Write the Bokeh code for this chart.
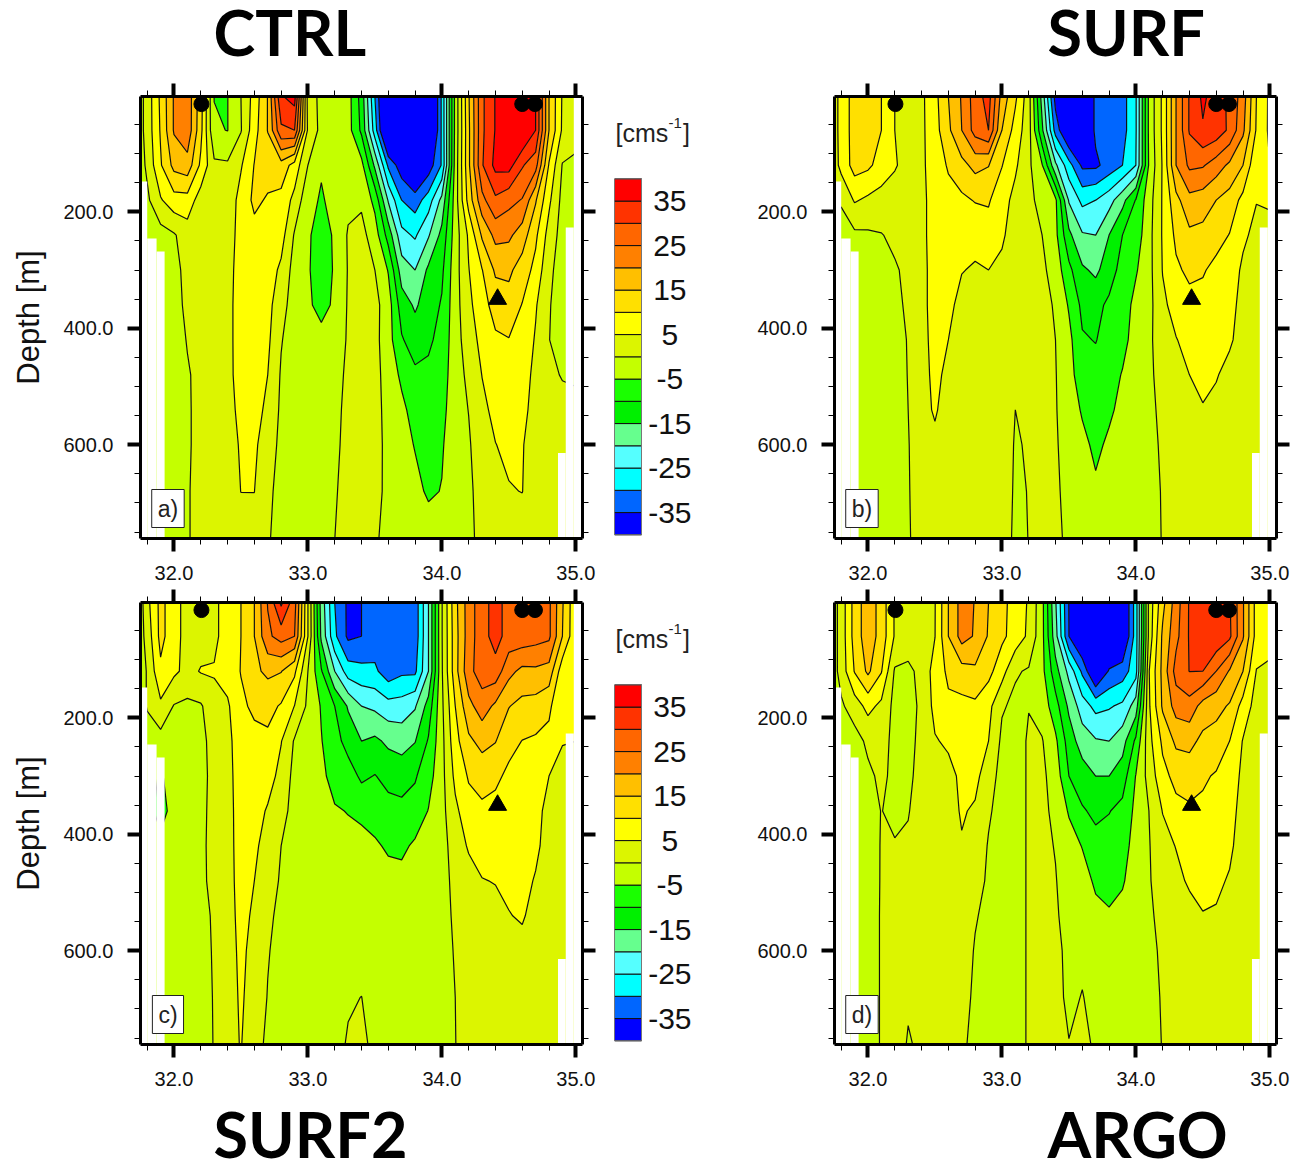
from bokeh.embed import file_html
from bokeh.resources import INLINE
from bokeh.plotting import figure
from bokeh.layouts import column, row
from bokeh.models import Range1d, LinearAxis, FixedTicker, Label
import numpy as np

LON = [31.75, 31.8, 31.9, 32.0, 32.1, 32.2, 32.3, 32.4, 32.5, 32.6, 32.7, 32.8, 32.9, 33.0, 33.1, 33.2, 33.3, 33.4,
       33.5, 33.6, 33.7, 33.8, 33.9, 34.0, 34.1, 34.2, 34.3, 34.4, 34.5, 34.6, 34.7, 34.8, 34.9, 35.0]
DEPTH = [2, 60, 120, 180, 240, 300, 360, 420, 480, 540, 600, 680, 765]

# velocity per longitude (one list per LON entry, top to bottom along DEPTH)
U_CTRL = [
 [-1.5,-1.5,-2,-3,-3,-3,-3,-3,-3,-3,-3,-3,-3],
 [2,2,1,-1,-2,-3,-3,-3,-3,-3,-3,-3,-3],
 [11,10.5,9.5,4.5,-2,-3,-3.5,-3.5,-3.5,-3.5,-3.5,-3.5,-3.5],
 [20.5,20.5,16.5,8,-0.5,-2,-2.5,-2.5,-2.5,-2.5,-2.5,-2.5,-2.5],
 [23.5,23.5,18,8,2.5,2,1.5,0.3,-0.5,-0.6,-0.6,-0.5,-0.5],
 [12,11.5,9,2.5,1.5,1.5,1.5,1.5,1.5,1.5,1.5,2,2],
 [-5.1,-4.5,1,2,2.5,2.5,2.5,2.5,2.5,2.5,2.5,2.5,2.5],
 [-5.1,-5.1,0.7,1.5,2.5,2.5,3,3,3,3,3,3,3],
 [0,-0.3,4.5,7,7,8,8,8,7.8,6.5,5.5,5.05,2.5],
 [7,8,10.2,11,8.5,8.5,8.5,8,8,7.5,6,5.05,3],
 [15.2,15.2,12,9.5,8,7.5,6.5,6,5,3.5,2,0.8,0.3],
 [34.5,29,13,8.5,7,4,2,0.3,-0.5,-0.8,-1,-1.2,-1.2],
 [37,30,8,3.5,-0.5,-2,-2.5,-2.5,-2.5,-2.5,-2.5,-2.5,-2.5],
 [3,4,0,-3.5,-4.7,-4.7,-4.5,-3,-2,-1.5,-1.2,-1.2,-1.2],
 [-1.5,-1.5,-4.5,-5.5,-6,-6.5,-6,-4,-3,-2.5,-2,-1.5,-1.2],
 [-1.5,-1.5,-2.5,-3.5,-4.7,-4.7,-4.5,-3,-1.5,-1,-0.8,-0.4,0],
 [-3,-3,-3,-1.2,0.5,0.3,0.5,0.6,0.8,1,1.2,1.5,1.8],
 [-12,-11,-3.5,-0.8,1.5,1.8,2,2,2,2,2,2,2],
 [-30,-27.5,-16,-6.5,-2.5,0,1.5,1.5,1.5,1.5,1.5,1.2,0.4],
 [-48,-47,-31,-20.5,-12,-5.3,-2.7,-3,-2,-1.5,-1.2,-1,-1],
 [-48,-48,-38,-30,-23.5,-17.5,-12.5,-9.5,-6,-3.8,-3,-2,-1.5],
 [-48,-48,-44,-32.5,-25.7,-20,-15.7,-12.5,-9,-7,-5.3,-3.5,-2],
 [-48,-48,-38,-27.5,-20.5,-14,-12.6,-10.8,-9,-8,-7,-5.8,-2],
 [-29,-29,-29.5,-18.5,-13.5,-11,-9.5,-8.5,-7.5,-6.5,-5.5,-4.8,-1.5],
 [-3.5,-3.5,-3,-2.5,-2.5,-2,-2,-2,-2,-2,-2,-2,-2],
 [14.5,14,14,12,5.8,4.8,3.8,2.5,1,0.1,-0.5,-1,-1.2],
 [29,29,29.5,23.5,15.7,9.8,8,6.5,5.1,3.8,2.7,2,1.5],
 [35.3,35.3,36.5,29,21.5,15.8,12,9.2,7.7,6.3,4.9,3,2],
 [40,40,37,26.5,21,16,13,9.8,8.5,7.5,6,4.7,2.5],
 [42,41,30.5,24.7,17.5,12.7,9.8,8.5,7.5,6.5,5.4,5.1,2],
 [35,35,27,15.5,11,8.5,5.5,4.5,3.5,3,2,2,2],
 [15,15,9.5,6,3,1,0.3,0.1,1,2,2,2,2],
 [4.5,4.2,-0.3,-1.5,-2,-2,-2,-2,-0.3,1.5,1.5,1.5,1.5],
 [1.5,1.5,-0.8,-1.5,-1.5,-1.5,-1.5,-1.5,-0.5,1,1,1,1],
]
U_SURF = [
 [3,3,3,1,-3,-3,-3,-3,-3,-3,-3,-3,-3],
 [7,7,6.5,0.5,-2,-3,-3,-3,-3,-3,-3,-3,-3],
 [12,12,12,5.5,-1,-3,-3.5,-3.5,-3.5,-3.5,-3.5,-3.5,-3.5],
 [12.5,13,11,4,-0.7,-2.5,-3,-3.5,-3.5,-3.5,-3.5,-3.5,-3.5],
 [10,10,8,3,-0.2,-1.5,-2.5,-3,-3,-3,-3,-3,-3],
 [5,5,5.5,2.5,1,-0.5,-1.5,-2,-2.5,-2.5,-2.5,-2.5,-2.5],
 [3,3,3,3,2.5,1,1,0.3,0.2,0,-0.3,-0.5,-0.8],
 [4,4,4,3.5,3.5,3.5,3.5,3.5,3.5,3.5,3.5,3.5,3.5],
 [8.5,8,7.5,7.5,7.5,7,7,6.5,6,5.5,4,3.5,3],
 [15,14,10.5,8.5,7.5,7,6.2,5,4,3,2.5,2.5,2.5],
 [20.5,20,13.5,9,7.5,5.2,3.5,2.5,2.5,2.5,2,2,2],
 [27.5,27,16.5,10.3,6.5,4.5,3,2.5,2.5,2.5,2,2,2],
 [32,30,15.2,10.5,8,5,3,2.5,2,2,2,2,2],
 [18,15,10.2,7,6,3.5,2.5,2,2,2,2,2,2],
 [11,8,5.8,3.5,1.8,1.3,1.3,1.3,1,0,-0.3,-0.5,-0.8],
 [2,2,1,1.5,1.8,1.8,1.8,1.8,1.8,1.5,0.3,0.1,0.05],
 [-17,-14,-4.7,-2,0,1,1.5,1.5,1.5,1.5,1.5,1.3,1.2],
 [-37,-32,-19,-4,-3.7,-2.1,-0.5,0,0.2,0.3,0.5,0.8,1],
 [-42,-42,-28,-20.5,-13.8,-8.7,-5.5,-3.6,-3,-2.5,-2,-1.5,-0.9],
 [-42,-42,-36,-26.3,-19.5,-14.2,-11.2,-9.5,-8,-5.5,-3.8,-2.5,-1.5],
 [-34,-34,-36,-25,-20,-16,-11.5,-10.2,-8.3,-7,-6,-4.2,-2],
 [-33,-33,-33,-22,-15,-12.5,-9,-8,-7,-5.8,-4.2,-3,-1.5],
 [-32,-32,-30,-16.6,-10,-8,-7.5,-6.5,-4.7,-3.7,-3,-2.5,-1.5],
 [-25.5,-25.5,-25,-9.7,-7.8,-5.5,-3.5,-3,-2.7,-2.3,-2,-1.5,-1],
 [-3.5,-3.5,-4,-2,-1.5,-1.5,-1.5,-1,-1,-1,-1,-1,-0.8],
 [6,6,5.5,5.5,5.5,5.2,4,3,2,1,0.5,0.2,0.1],
 [20,20,20,13.5,11,9.2,6.8,4.8,3.5,2.5,1.7,1.2,1],
 [30.5,30.5,26,18.4,14,11,8.5,6.5,5,3.5,2.5,1.7,1.2],
 [36,34.5,25.5,17.5,13.5,10.5,8.2,6.8,5.8,4.8,3.2,2,1.5],
 [32.5,33,22.5,15,12,8.5,7,6.5,5.4,3.5,2.5,2,1.5],
 [29,29,19,13,9.8,8,7,5.8,3.2,2.5,2,1.8,1.5],
 [22.5,21,15,8.5,6,4,3,2.7,2.5,2.5,2,2,1.5],
 [10,9.5,5.8,5.2,3.5,2.8,2.5,2.5,2.5,2.5,2.5,2,2],
 [4,4,5,5.2,4.5,3,3,3,3,3,3,3,3],
]
U_SURF2 = [
 [-2,-2,-3,-3,-3,-3,-3,-3,-3,-3,-3,-3,-3],
 [3.5,2,0.5,0.5,-3,-3,-3,-3,-3,-3,-3,-3,-3],
 [11.5,11.5,9,4,-2,-5.5,-7,-3.5,-3,-3,-3,-3,-3],
 [7,7,6,-0.3,-2.5,-3,-3,-3,-3,-3,-3,-3,-3],
 [3,3,3.5,-1,-2,-2.5,-3,-3,-3,-3,-3,-3,-3],
 [3,3,5.3,-0.5,-1.5,-1.8,-1.2,-1,-1,-1.2,-1.5,-2,-2],
 [3.5,3.5,5.5,3,2,1.8,1.5,1.5,1.3,0.5,0.4,0.3,0.2],
 [8,8,7,4.3,3.5,3,3,3,3,3,3,3,3.5],
 [10,10,10.2,9,8,8,7.5,7.3,7,6.5,6,5.6,5.2],
 [15,15,14,11,8.5,7.5,7,5.8,5,4.2,3.5,3,1.5],
 [25.3,24,16,11.5,9,7,4.5,3.3,2,0.8,0.3,-0.2,-0.8],
 [36,27,15.2,9.5,5.2,3.5,2,0,-0.5,-1,-1.5,-2,-2],
 [27,25,11,4.9,-0.5,-1.5,-2,-2,-2,-2,-2,-2,-2],
 [5,5,0,-1,-2,-2.5,-2.5,-2.5,-2.5,-2.5,-2.5,-2.5,-2.5],
 [-17,-16,-9.5,-5.4,-4.8,-3.8,-3,-2.5,-2,-2,-2,-2,-2],
 [-30,-29,-20,-10,-8,-7,-4.5,-3,-2.5,-2,-2,-2,-1.5],
 [-36,-36,-27.5,-15.5,-12,-7.5,-5.2,-3.5,-3,-2.5,-2,-0.5,0.5],
 [-35,-35,-28.5,-20,-15,-11,-6,-3.5,-3,-2.5,-2,0.05,1],
 [-33,-33,-29,-21,-14,-9.8,-6.5,-4.5,-3.5,-2.5,-2.5,-2,-1],
 [-32.5,-32.5,-33,-23,-16,-11.5,-8.3,-5.5,-3.8,-3,-3,-2.5,-2],
 [-33,-33,-31,-22.8,-17,-12,-8.7,-6,-3.5,-3,-2.5,-2.5,-2.5],
 [-33,-33,-31,-20.5,-15.2,-10.5,-8,-4.2,-3,-2.5,-2.5,-2.5,-2.5],
 [-20,-20,-20,-13,-9.5,-7,-4.8,-3.5,-3,-2.5,-2.5,-2.5,-2.5],
 [-0.3,-0.3,-0.5,-1,-1.5,-1.5,-1.5,-2,-2,-2.2,-2.5,-2.5,-2.5],
 [13.5,13,13,10,8.3,6.2,3.9,2.5,1.5,1,0.5,0,-0.1],
 [22.5,22.5,23.5,18.5,14,10.5,8,5.5,3.2,2.5,2,2,2],
 [28,28,27.5,22.5,16.5,12,9,7,4.8,3.2,2.5,2,2],
 [32,32,28,19,15.2,11,8.5,7,5.2,3.5,3,2.5,2],
 [28,28,21.5,15.2,11.5,9,8,7.5,6,4.8,3,2.5,2],
 [28,28,18.7,13.5,9.9,8,7.5,7,6.5,5.5,3.5,2.5,2],
 [27.5,27,19,13,9.3,7.5,6.5,6,4.6,3.3,2.5,2,2],
 [26,26,18,11,8.6,5,3.5,3,2.5,2.5,2.5,2,2],
 [15.5,15,7,5.5,5.3,3,3,3,3,3,3,3,3],
 [6,6,5.2,5.2,5,3,3,3,3,3,3,3,3],
]
U_ARGO = [
 [-1.5,-1.5,-1.5,-2,-3,-3,-3,-3,-3,-3,-3,-3,-3],
 [2,2,2,-0.8,-3,-3,-3,-3,-3,-3,-3,-3,-3],
 [12,12,10.3,2.5,-2,-3,-3.5,-3.5,-3.5,-3.5,-3.5,-3.5,-3.5],
 [18,18,16,6.5,1,-1,-1.5,-2.5,-3,-3,-3,-3,-3],
 [13,13,10.3,3.8,2,1,0.1,0.3,0.4,0.5,0.5,0.5,0.5],
 [4.5,4.5,-0.6,-1.5,-1.5,-1.2,-1,0.3,1,1.5,1.5,1.5,1.5],
 [3,3,-1.2,-1.5,-1.7,-1.2,-0.3,0.8,1,1.5,1.5,0.4,-0.3],
 [4,4,1.5,0.8,1.5,2,2.5,2.5,2.5,2,2,2,0.5],
 [4.8,4.9,7,6.5,4.6,3.5,3,2.5,2.5,2,2,2,2],
 [15,15,11,9,5.8,3.5,3,2.5,2,2,2,2,2],
 [22,22,13,8.5,6.8,6,5.5,4.6,3,2.5,2,1.2,0.6],
 [19.8,19.5,14,9,7.5,6.5,4.3,2.5,1.5,0.3,-0.3,-0.6,-1],
 [15,14.5,11.5,6.5,5,2,0.5,-0.3,-0.6,-1,-1.5,-1.5,-1.5],
 [11.5,11,7,0.5,-1,-1.5,-1.5,-1.5,-1.5,-1.5,-1.5,-1.5,-1.5],
 [7.8,8,0.5,-1,-1.5,-1.5,-1.5,-1.5,-1.5,-1.5,-1.5,-1.5,-1.5],
 [4.5,4,-0.5,-0.1,0.4,0.4,0.4,0.4,0.4,0.4,0.4,0.4,0.4],
 [-3.5,-3.5,-3.5,-2,0.3,1,1,1,1,1,1,1,1],
 [-19.5,-18,-13,-8,-4,-2.2,-1,-0.2,0.2,0.5,1,1.5,1.8],
 [-35.2,-35,-21.5,-16,-12.3,-10,-5.5,-2.8,-2,-1.5,-1,-1,0.2],
 [-42,-42,-31,-22.5,-17.5,-12.5,-9.5,-5.2,-3,-2,-1,0.2,0.8],
 [-42,-42,-42,-26.5,-19.5,-15,-11,-8.5,-5.8,-3.7,-3,-1.5,-0.4],
 [-42,-42,-34.5,-25.5,-20,-15,-10.2,-8,-6.5,-4.5,-3.5,-2,-1],
 [-42,-42,-32.5,-24,-17,-12.5,-8.5,-7,-5.5,-3.5,-2.8,-2,-1],
 [-27.5,-27.5,-27,-17.5,-9,-4.8,-3.8,-3,-2.5,-2,-2,-1.5,-1],
 [2,2,5,4.5,3.5,2,0.1,-0.2,-0.3,-0.8,-1.2,-1.5,-1],
 [13.5,16,16.5,15.8,11,8.5,5.2,3,2,1.5,0.8,0.4,0.1],
 [22.5,23.5,27,22,16,11.5,8.5,5.2,3.5,3,2.5,2,1],
 [30.5,30.5,30.1,23,16.5,12,9.3,8,5.8,3,2.5,2,1.5],
 [33,33,30,18,13.7,10.7,9,7.8,6.3,4.8,3.5,2.5,2],
 [34,34,25,16.5,13,9.5,8.5,7.5,6,4.5,3.5,2.5,2],
 [30.5,31,19.5,14.5,10,8,7,6,4.5,3.5,3,2.5,2],
 [20.5,20.5,15,8,4.7,3.8,3,2.5,2.5,2.5,2.5,2,2],
 [8,8,4.8,3,2,1.5,1,1,1,1,1,1,1],
 [6,6,4.5,3,2.5,2,2,2,2,2,2,2,2],
]

LEVELS = [-100, -35, -30, -25, -20, -15, -10, -5, 0, 5, 10, 15, 20, 25, 30, 35, 100]
COLORS = ["#0000ff", "#0066ff", "#00ffff", "#55ffff", "#66ff8e", "#00f000", "#1aff00", "#c4ff00",
          "#dcf500", "#ffff00", "#ffe000", "#ffbf00", "#ff8000", "#ff6600", "#ff3300", "#ff0000"]
BAR_LOW = [-40, -35, -30, -25, -20, -15, -10, -5, 0, 5, 10, 15, 20, 25, 30, 35]
BAR_HIGH = [-35, -30, -25, -20, -15, -10, -5, 0, 5, 10, 15, 20, 25, 30, 35, 40]
BAR_TICKS = [-35, -25, -15, -5, 5, 15, 25, 35]
BAR_LABELS = ["-35", "-25", "-15", "-5", "5", "15", "25", "35"]

LAND_LEFT = [31.75, 31.80, 31.87, 34.985, 34.925, 34.867]
LAND_RIGHT = [31.80, 31.87, 31.93, 35.05, 34.985, 34.925]
LAND_TOP = [148, 246, 268, 2, 227, 614]
LAND_BOTTOM = [761, 761, 761, 761, 761, 761]

DOT_LON = [32.205, 34.60, 34.695]
DOT_DEPTH = [15, 15, 15]
TRI_LON = [34.416]
TRI_DEPTH = [350]

X_TICKS = [32, 33, 34, 35]
X_MINOR = [31.8, 32.2, 32.4, 32.6, 32.8, 33.2, 33.4, 33.6, 33.8, 34.2, 34.4, 34.6, 34.8, 35.0]
Y_TICKS = [200, 400, 600]
Y_MINOR = [50, 100, 150, 250, 300, 350, 450, 500, 550, 650, 700, 750]

SANS = "Liberation Sans"


def style_axis(ax):
    ax.axis_line_width = 3
    ax.axis_line_color = "black"
    ax.major_tick_in = 0
    ax.major_tick_out = 13
    ax.major_tick_line_width = 4
    ax.minor_tick_in = 0
    ax.minor_tick_out = 6
    ax.minor_tick_line_width = 1
    ax.major_label_text_font = SANS
    ax.major_label_text_font_size = "20px"
    ax.major_label_text_color = "#111111"


def panel(data, tag, top, bottom, left, right, ylabel):
    p = figure(width=left + 442 + right, height=top + 442 + bottom, output_backend="svg", toolbar_location=None,
               x_range=Range1d(31.75, 35.05), y_range=Range1d(761, 2),
               min_border_left=left, min_border_right=right, min_border_top=top, min_border_bottom=bottom,
               outline_line_color=None, background_fill_color="white")
    p.grid.visible = False
    z = np.array(data, dtype=float).T
    p.contour(LON, DEPTH, z, levels=LEVELS, fill_color=COLORS, line_color="#111111", line_width=1.2)
    p.quad(left=LAND_LEFT, right=LAND_RIGHT, top=LAND_TOP, bottom=LAND_BOTTOM, fill_color="white", line_color=None)
    p.scatter(DOT_LON, DOT_DEPTH, size=15, marker="circle", fill_color="black", line_color="black")
    p.scatter(TRI_LON, TRI_DEPTH, size=18, marker="triangle", fill_color="black", line_color="black")

    xt = FixedTicker(ticks=X_TICKS, minor_ticks=X_MINOR)
    yt = FixedTicker(ticks=Y_TICKS, minor_ticks=Y_MINOR)
    p.xaxis.ticker = xt
    p.yaxis.ticker = yt
    style_axis(p.xaxis[0])
    style_axis(p.yaxis[0])
    p.xaxis[0].major_label_overrides = {v: f"{v:.1f}" for v in X_TICKS}
    p.yaxis[0].major_label_overrides = {v: f"{v:.1f}" for v in Y_TICKS}
    p.xaxis[0].major_label_standoff = 14
    p.yaxis[0].major_label_standoff = 14
    if ylabel:
        p.yaxis[0].axis_label = "Depth [m]"
        p.yaxis[0].axis_label_text_font = SANS
        p.yaxis[0].axis_label_text_font_style = "normal"
        p.yaxis[0].axis_label_text_font_size = "31px"
        p.yaxis[0].axis_label_text_color = "#111111"
        p.yaxis[0].axis_label_standoff = 14

    for side, ticker, ticks in (("above", xt, X_TICKS), ("right", yt, Y_TICKS)):
        ax = LinearAxis(ticker=ticker)
        style_axis(ax)
        ax.major_label_standoff = 0
        ax.major_label_overrides = {v: "" for v in ticks}
        ax.major_label_text_font_size = "1px"
        p.add_layout(ax, side)

    p.add_layout(Label(x=31.955, y=709.5, text=tag, text_font=SANS, text_font_size="23px", text_color="#222222",
                       text_align="center", text_baseline="middle", background_fill_color="white",
                       border_line_color="#222222", border_line_width=1, padding=6))
    return p


def colorbar(top, bottom):
    p = figure(width=100, height=top + 442 + bottom, output_backend="svg", toolbar_location=None,
               x_range=Range1d(0, 86 / 27), y_range=Range1d(-40.83, 58.5),
               min_border_left=14, min_border_right=0, min_border_top=top, min_border_bottom=bottom,
               outline_line_color=None)
    p.grid.visible = False
    p.xaxis.visible = False
    p.yaxis.visible = False
    p.quad(left=0, right=1, bottom=BAR_LOW, top=BAR_HIGH, fill_color=COLORS, line_color="#111111", line_width=1)
    p.quad(left=[0], right=[1], bottom=BAR_LOW[:1], top=BAR_HIGH[-1:], fill_color=None, line_color="#777777",
           line_width=1)
    p.text(x=[2.05] * len(BAR_TICKS), y=BAR_TICKS, text=BAR_LABELS, text_font_size="30px", text_baseline="middle",
           text_align="center", text_color="#111111", text_font={"value": SANS})
    p.add_layout(Label(x=0.04, y=50.2, text="[cms", text_font=SANS, text_font_size="25px", text_color="#222222",
                       text_baseline="alphabetic"))
    p.add_layout(Label(x=2.0, y=52.6, text="-1", text_font=SANS, text_font_size="15px", text_color="#222222",
                       text_baseline="alphabetic"))
    p.add_layout(Label(x=2.54, y=50.2, text="]", text_font=SANS, text_font_size="25px", text_color="#222222",
                       text_baseline="alphabetic"))
    return p


def title_strip(height, y_top, names, xs, baseline):
    p = figure(width=1290, height=height, output_backend="svg", toolbar_location=None,
               x_range=Range1d(0, 1290), y_range=Range1d(y_top + height, y_top),
               min_border=0, outline_line_color=None)
    p.grid.visible = False
    p.xaxis.visible = False
    p.yaxis.visible = False
    for name, x in zip(names, xs):
        p.add_layout(Label(x=x, y=baseline, text=name, text_font="Lato", text_font_size="63px",
                           text_font_style="bold", text_color="black", text_align="left",
                           text_baseline="alphabetic"))
    return p


TOP_STRIP = 60
BOTTOM_STRIP_Y = 1100
H1_TOP, H1_BOT = 36, 49
H2_TOP, H2_BOT = 15, 56

a = panel(U_CTRL, "a)", H1_TOP, H1_BOT, 140, 18, True)
b = panel(U_SURF, "b)", H1_TOP, H1_BOT, 134, 14, False)
c = panel(U_SURF2, "c)", H2_TOP, H2_BOT, 140, 18, True)
d = panel(U_ARGO, "d)", H2_TOP, H2_BOT, 134, 14, False)
bar1 = colorbar(H1_TOP, H1_BOT)
bar2 = colorbar(H2_TOP, H2_BOT)
strip1 = title_strip(TOP_STRIP, 0, ["CTRL", "SURF"], [213, 1047], 31)
strip2 = title_strip(63, BOTTOM_STRIP_Y, ["SURF2", "ARGO"], [213, 1047], 1133)

page = column(strip1, row(a, bar1, b), row(c, bar2, d), strip2)
open("out.html", "w").write(file_html(page, INLINE))
